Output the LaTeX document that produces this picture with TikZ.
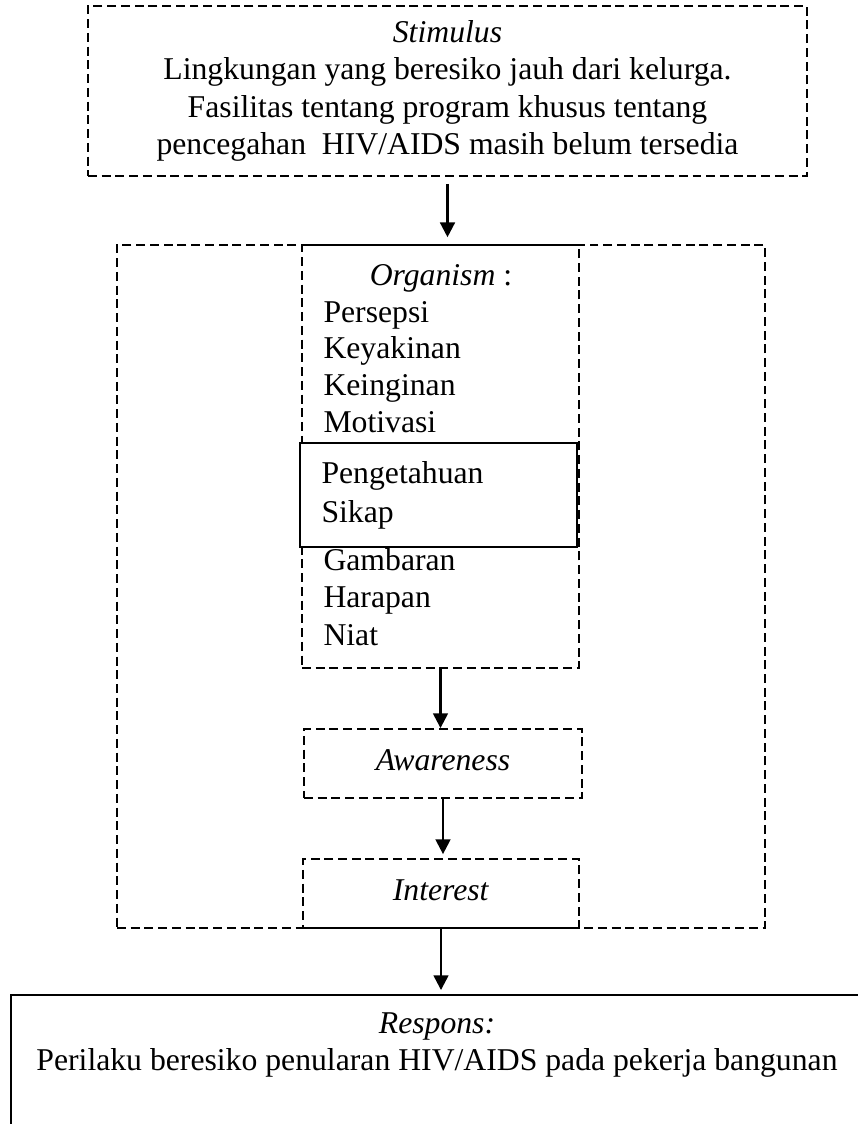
\documentclass[tikz,border=0pt]{standalone}
\usepackage{fontspec}
\setmainfont{Liberation Serif}
\usetikzlibrary{arrows.meta,positioning}
\newcommand{\pxw}{0.3785pt}
\tikzset{
  >={Triangle[length=5.6pt, width=5.6pt]},
  dbox/.style={draw, dash pattern=on 3.4pt off 1.8pt, line width=0.7pt, inner sep=0pt},
  sbox/.style={draw, line width=0.8pt, fill=white, inner sep=0pt},
  respbox/.style={draw, line width=0.8pt, inner sep=0pt, anchor=north west},
  stepbox/.style={dbox, text height=8pt, text depth=3pt},
  item/.style={anchor=base west, inner sep=0pt},
  txt/.style={anchor=base, inner sep=0pt},
  flow/.style={->, line width=0.9pt},
}
\begin{document}
\begin{tikzpicture}[x=\pxw, y=-\pxw, font=\fontsize{12pt}{14.1pt}\selectfont]
  \useasboundingbox (0,0) rectangle (858,1124);

  \node[dbox, minimum width=719*\pxw, minimum height=170*\pxw, align=center] (stim) at (447.5,91)
    {\textit{Stimulus}\\Lingkungan yang beresiko jauh dari kelurga.\\Fasilitas tentang program khusus tentang\\pencegahan\ \ HIV/AIDS masih belum tersedia};

  \node[dbox, minimum width=648*\pxw, minimum height=683*\pxw] (outer) at (441,586.5) {};
  \node[dbox, minimum width=277*\pxw, minimum height=423*\pxw] (org) at (440.5,456.5) {};
  \node[sbox, minimum width=277*\pxw, minimum height=104*\pxw] (know) at (438.5,495) {};

  \node[txt] (orgt) at (441,285) {\textit{Organism} :};
  \node[item] (persepsi) at (323,322) {Persepsi};
  \node[item] (yakin) at (323,358) {Keyakinan};
  \node[item] (ingin) at (323,395) {Keinginan};
  \node[item] (motiv) at (323,432) {Motivasi};
  \node[item] (tahu) at (321,483) {Pengetahuan};
  \node[item] (sikap) at (321,522) {Sikap};
  \node[item] (gambar) at (323,570) {Gambaran};
  \node[item] (harap) at (323,607) {Harapan};
  \node[item] (niat) at (323,645) {Niat};

  \node[stepbox, minimum width=278*\pxw, minimum height=69*\pxw] (aware) at (443,763.5) {\textit{Awareness}};
  \node[stepbox, minimum width=276*\pxw, minimum height=69*\pxw] (interest) at (441,893.5) {\textit{Interest}};

  \node[respbox, minimum width=860*\pxw, minimum height=200*\pxw] (resp) at (10,994) {};
  \node[txt] (respt) at (437,1033) {\textit{Respons:}};
  \node[txt] (respb) at (437,1070) {Perilaku beresiko penularan HIV/AIDS pada pekerja bangunan};

  \draw[flow, shorten <=2.6pt, shorten >=2.6pt] (stim.south) -- (stim.south |- outer.north);
  \draw[flow] (org.south) -- (org.south |- aware.north);
  \draw[flow, shorten >=1.5pt] (aware.south) -- (aware.south |- interest.north);
  \draw[flow, shorten >=1.5pt] (interest.south) -- (interest.south |- resp.north);
\end{tikzpicture}
\end{document}
